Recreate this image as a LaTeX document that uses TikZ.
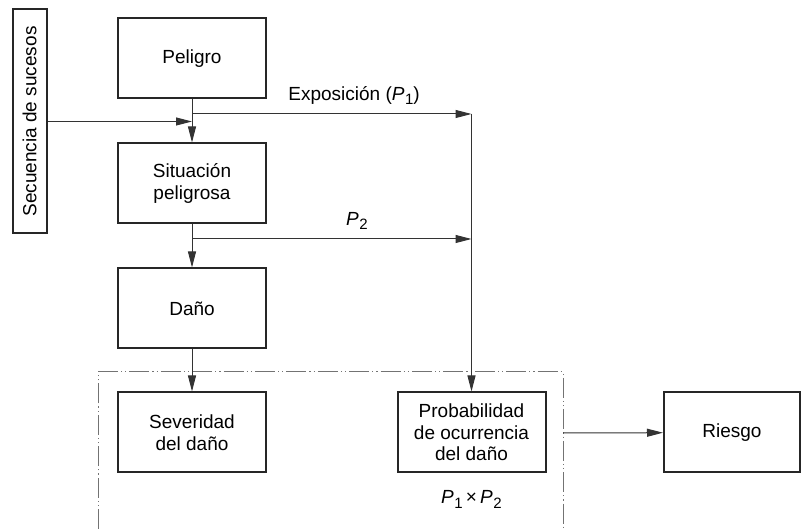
\documentclass[tikz,border=0pt]{standalone}
\usepackage{fontspec}
\setmainfont{Liberation Sans}
\usetikzlibrary{arrows.meta}

\newcommand{\pvar}[1]{\textit{P}\kern0.3pt\raisebox{-0.45ex}{\fontsize{7.5}{8}\selectfont #1}}

\begin{document}
\begin{tikzpicture}[x=0.5pt, y=-0.5pt, >={Triangle[length=8pt,width=4pt]},
  font=\fontsize{9.5}{10.8}\selectfont,
  box/.style={draw=black!85, line width=1pt, minimum width=74pt, minimum height=40pt, align=center, inner sep=1pt},
  conn/.style={draw=black!80, line width=0.5pt},
  frame/.style={draw=black!55, line width=0.5pt, dash pattern=on 10pt off 1.5pt on 0.6pt off 1.5pt on 0.6pt off 1.5pt}]
\useasboundingbox (0,0) rectangle (805,529);

\node[box, rotate=90, minimum width=112pt, minimum height=17pt] (sec) at (29.5,121.5) {Secuencia de sucesos};
\node[box] (pel) at (192,58.5) {Peligro};
\node[box] (sit) at (192,183.5) {Situación\\peligrosa};
\node[box] (dan) at (192,308.5) {Daño};
\node[box] (sev) at (192,432.5) {Severidad\\del daño};
\node[box] (prob) at (471.5,432.5) {Probabilidad\\de ocurrencia\\del daño};
\node[box, minimum width=68pt] (ries) at (732,432.5) {Riesgo};

\coordinate (e1) at (192,114);
\coordinate (r1) at (471.5,114);
\coordinate (e2) at (192,239);
\coordinate (r2) at (471.5,239);
\coordinate (g) at (563,433);

\draw[frame] (98,529) -- (98,372) -- (563,372) -- (563,529);

\draw[conn, ->] (pel) -- (sit);
\draw[conn, ->] (sec.south) -- (sec.south -| pel);
\draw[conn, ->] (e1) -- node[pos=0.58, above=1pt, black] {Exposición (\pvar{1})} (r1);
\draw[conn, ->] (r1) -- (prob);
\draw[conn, ->] (sit) -- (dan);
\draw[conn, ->] (e2) -- node[pos=0.59, above=1pt, black] {\pvar{2}} (r2);
\draw[conn, ->] (dan) -- (sev);
\draw[conn, ->] (g) -- (ries);

\node[below=5pt] (prod) at (prob.south) {\pvar{1}\,×\,\pvar{2}};
\end{tikzpicture}
\end{document}
